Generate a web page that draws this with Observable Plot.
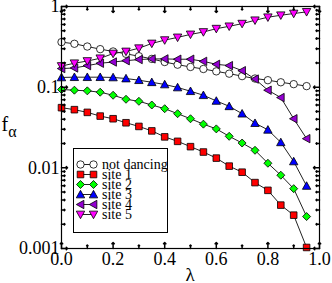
<!DOCTYPE html>
<html>
<head>
<meta charset="utf-8">
<script src="https://cdn.jsdelivr.net/npm/d3@7"></script>
<script src="https://cdn.jsdelivr.net/npm/@observablehq/plot@0.6"></script>
<style>
  html, body { margin: 0; padding: 0; background: #fff; }
  #wrap { position: relative; width: 332px; height: 283px; }
  #legend { position: absolute; left: 73px; top: 148px; }
  svg, svg text, svg tspan { font-family: "Liberation Serif", "Times New Roman", serif !important; }
</style>
</head>
<body>
<div id="wrap"><div id="chart"></div><div id="legend"></div></div>
<script>
const lambda = [0, 0.05, 0.1, 0.15, 0.2, 0.25, 0.3, 0.35, 0.4, 0.45, 0.5, 0.55, 0.6, 0.65, 0.7, 0.75, 0.8, 0.85, 0.9, 0.95];
const notDancing = [0.362, 0.345, 0.319, 0.296, 0.277, 0.259, 0.242, 0.224, 0.205, 0.190, 0.178, 0.168, 0.157, 0.147, 0.137, 0.128, 0.122, 0.115, 0.109, 0.103];
const site1 = [0.0557, 0.0526, 0.0487, 0.0438, 0.0406, 0.0362, 0.0326, 0.0287, 0.0242, 0.0213, 0.0183, 0.0157, 0.0132, 0.0105, 0.00883, 0.00656, 0.00526, 0.00345, 0.00259, 0.00103];
const site2 = [0.0935, 0.0917, 0.0900, 0.0866, 0.0794, 0.0708, 0.0668, 0.0601, 0.0541, 0.0469, 0.0406, 0.0348, 0.0304, 0.0246, 0.0203, 0.0165, 0.0114, 0.00810, 0.00552, 0.00249];
const site3 = [0.132, 0.133, 0.133, 0.133, 0.132, 0.128, 0.122, 0.115, 0.108, 0.0991, 0.0891, 0.0794, 0.0675, 0.0579, 0.0469, 0.0358, 0.0296, 0.0207, 0.0120, 0.00596];
const site4 = [0.170, 0.173, 0.185, 0.198, 0.205, 0.213, 0.220, 0.224, 0.224, 0.222, 0.222, 0.209, 0.192, 0.185, 0.160, 0.126, 0.0917, 0.0743, 0.0406, 0.0230];
const site5 = [0.183, 0.198, 0.211, 0.228, 0.261, 0.277, 0.304, 0.348, 0.383, 0.414, 0.451, 0.483, 0.531, 0.568, 0.613, 0.675, 0.736, 0.779, 0.818, 0.858];

const seriesNames = ["not dancing", "site 1", "site 2", "site 3", "site 4", "site 5"];
const seriesValues = [notDancing, site1, site2, site3, site4, site5];
const seriesColors = ["#ffffff", "#ff0000", "#00ff00", "#0000ff", "#9400d3", "#ff00ff"];

const xTicks = [0, 0.2, 0.4, 0.6, 0.8, 1.0];
const xMinor = [0.1, 0.3, 0.5, 0.7, 0.9];
const yTicks = [0.001, 0.01, 0.1, 1];
const yTickLabels = ["0.001", "0.01", "0.1", "1"];
const yMinor = [2,3,4,5,6,7,8,9].flatMap(m => [0.001, 0.01, 0.1].map(p => +(m * p).toPrecision(3)));

// custom marker shapes (size = pi r^2)
const rad = s => Math.sqrt(s / Math.PI);
const symCircle = {draw(c, s) { const r = rad(s); c.moveTo(r, 0); c.arc(0, 0, r, 0, 2 * Math.PI); c.closePath(); }};
const symSquare = {draw(c, s) { const r = rad(s); c.rect(-r, -r, 2 * r, 2 * r); }};
const symDiamond = {draw(c, s) { const r = rad(s); c.moveTo(0, -r); c.lineTo(r, 0); c.lineTo(0, r); c.lineTo(-r, 0); c.closePath(); }};
const symTriUp = {draw(c, s) { const r = rad(s); c.moveTo(0, -r); c.lineTo(r, r * 0.8); c.lineTo(-r, r * 0.8); c.closePath(); }};
const symTriLeft = {draw(c, s) { const r = rad(s); c.moveTo(-r, 0); c.lineTo(r * 0.8, -r); c.lineTo(r * 0.8, r); c.closePath(); }};
const symTriDown = {draw(c, s) { const r = rad(s); c.moveTo(0, r); c.lineTo(r, -r * 0.8); c.lineTo(-r, -r * 0.8); c.closePath(); }};
const seriesSymbols = [symCircle, symSquare, symDiamond, symTriUp, symTriLeft, symTriDown];
const seriesR = [3.7, 3.3, 4.0, 4.2, 4.2, 4.2];

const rows = seriesNames.flatMap((name, i) => lambda.map((x, j) => ({series: name, i, x, y: seriesValues[i][j]})));

const dotMarks = seriesNames.map((name, i) =>
  Plot.dot(rows.filter(d => d.i === i), {x: "x", y: "y", symbol: seriesSymbols[i], r: seriesR[i], fill: seriesColors[i], stroke: "#000", strokeWidth: 0.8})
);

const chart = Plot.plot({
  width: 332,
  height: 283,
  marginLeft: 61,
  marginRight: 13,
  marginTop: 6,
  marginBottom: 35,
  style: {fontSize: "18px", color: "#000", background: "#fff", overflow: "visible"},
  x: {domain: [0, 1], label: null},
  y: {type: "log", domain: [0.001, 1], label: null},
  marks: [
    Plot.line(rows, {x: "x", y: "y", z: "series", stroke: "#222", strokeWidth: 1}),
    ...dotMarks,
    Plot.axisX({ticks: xTicks, tickSize: 0, tickPadding: 4, tickFormat: d3.format(".1f"), fontSize: 18, label: null}),
    Plot.axisY({ticks: yTicks, tickSize: 0, tickPadding: 2, tickFormat: d => yTickLabels[yTicks.indexOf(d)], fontSize: 18, label: null}),
    // inward ticks on all four sides
    Plot.vector(xTicks, {x: d => d, frameAnchor: "bottom", length: 6, rotate: 0, anchor: "start", stroke: "#000"}),
    Plot.vector(xMinor, {x: d => d, frameAnchor: "bottom", length: 3.5, rotate: 0, anchor: "start", stroke: "#000"}),
    Plot.vector(xTicks, {x: d => d, frameAnchor: "top", length: 6, rotate: 180, anchor: "start", stroke: "#000"}),
    Plot.vector(xMinor, {x: d => d, frameAnchor: "top", length: 3.5, rotate: 180, anchor: "start", stroke: "#000"}),
    Plot.vector(yTicks, {y: d => d, frameAnchor: "left", length: 6, rotate: 90, anchor: "start", stroke: "#000"}),
    Plot.vector(yMinor, {y: d => d, frameAnchor: "left", length: 3.5, rotate: 90, anchor: "start", stroke: "#000"}),
    Plot.vector(yTicks, {y: d => d, frameAnchor: "right", length: 6, rotate: -90, anchor: "start", stroke: "#000"}),
    Plot.vector(yMinor, {y: d => d, frameAnchor: "right", length: 3.5, rotate: -90, anchor: "start", stroke: "#000"}),
    Plot.frame({stroke: "#000", strokeWidth: 1.2})
  ]
});
document.getElementById("chart").append(chart);

// axis titles
const svg = d3.select(chart);
const fa = svg.append("text").attr("x", 1.5).attr("y", 131).attr("text-anchor", "start").attr("font-size", 20).attr("fill", "#000");
fa.append("tspan").text("f");
fa.append("tspan").attr("dy", 6).attr("font-size", 16).text("α");
svg.append("text").attr("x", 190).attr("y", 281).attr("text-anchor", "middle").attr("font-size", 19).attr("fill", "#000").text("λ");

// legend
const legendRows = seriesNames.flatMap((name, i) => [0, 1].map(k => ({series: name, i, k})));
const legend = Plot.plot({
  width: 94,
  height: 84,
  margin: 0,
  style: {fontSize: "14px", color: "#000", background: "#fff", overflow: "visible"},
  x: {domain: [0, 1], range: [7, 20], axis: null},
  y: {type: "point", domain: seriesNames, range: [10, 72.5], axis: null},
  marks: [
    Plot.frame({stroke: "#000", strokeWidth: 1, fill: "#fff"}),
    Plot.line(legendRows, {x: "k", y: "series", z: "series", stroke: "#222", strokeWidth: 1}),
    ...seriesNames.map((name, i) => Plot.dot(legendRows.filter(d => d.i === i), {x: "k", y: "series", symbol: seriesSymbols[i], r: seriesR[i], fill: seriesColors[i], stroke: "#000", strokeWidth: 0.8})),
    Plot.text(seriesNames, {x: () => 1, y: d => d, text: d => d, dx: 8.5, textAnchor: "start", fontSize: 14, fill: "#000"})
  ]
});
document.getElementById("legend").append(legend);
</script>
</body>
</html>
